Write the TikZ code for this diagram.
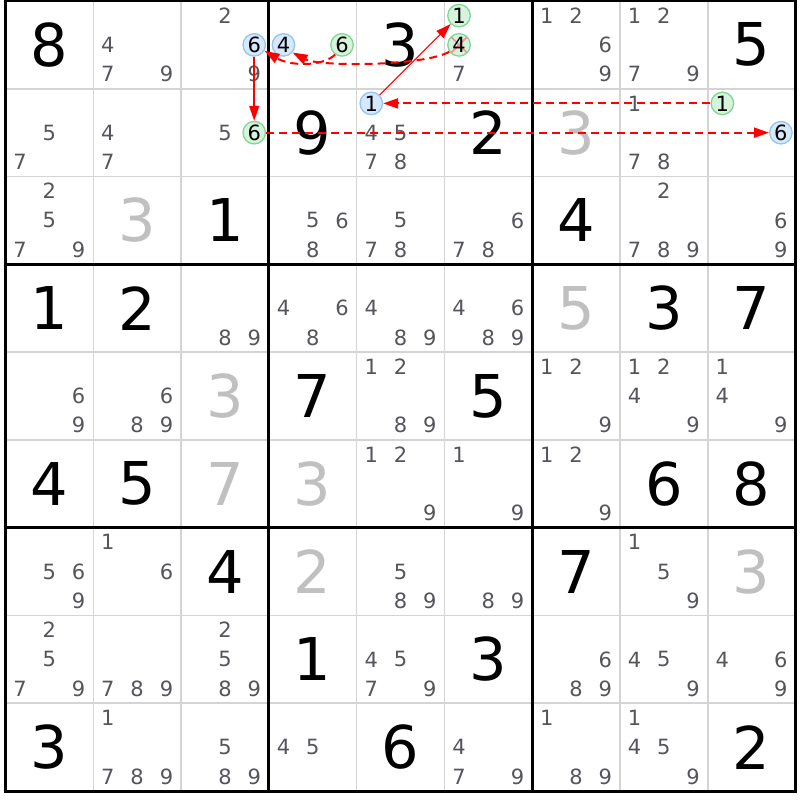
\documentclass[tikz,border=0pt]{standalone}
\usepackage{fontspec}
\setmainfont{DejaVu Sans}
\usetikzlibrary{arrows.meta}
\definecolor{candgray}{RGB}{85,85,92}
\definecolor{solvedgray}{RGB}{192,192,192}
\definecolor{thingray}{RGB}{212,212,212}
\definecolor{bluefill}{RGB}{214,232,252}
\definecolor{blueline}{RGB}{150,196,240}
\definecolor{greenfill}{RGB}{214,244,220}
\definecolor{greenline}{RGB}{130,214,145}
\definecolor{xred}{RGB}{255,140,140}
\definecolor{chainred}{RGB}{255,0,0}
\begin{document}
\begin{tikzpicture}[x=1pt,y=1pt,
  thinline/.style={draw=thingray,line width=1.5pt},
  boxline/.style={draw=black,line width=3pt},
  given/.style={inner sep=0pt,text=black,font=\fontsize{59}{59}\selectfont},
  solved/.style={inner sep=0pt,text=solvedgray,font=\fontsize{59}{59}\selectfont},
  cand/.style={inner sep=0pt,text=candgray,font=\fontsize{21}{21}\selectfont},
  circ/.style={circle,inner sep=0pt,minimum size=22.5pt,line width=1.3pt,text=black,font=\fontsize{21}{21}\selectfont},
  bluec/.style={circ,fill=bluefill,draw=blueline},
  greenc/.style={circ,fill=greenfill,draw=greenline},
  greencx/.style={greenc,path picture={
     \draw[xred,line width=1.6pt] (path picture bounding box.north west) -- (path picture bounding box.south east);
     \draw[xred,line width=1.6pt] (path picture bounding box.north east) -- (path picture bounding box.south west);}},
  redtip/.style={-{Triangle[length=15pt,width=10pt]}},
  chainsolid/.style={draw=chainred,line width=1.5pt,redtip},
  chaindash/.style={draw=chainred,line width=2pt,dash pattern=on 8pt off 5pt,redtip},
  chainthin/.style={draw=chainred,line width=1pt,redtip}
]
\fill[white] (0,0) rectangle (800,-800);
\useasboundingbox (0,0) rectangle (800,-800);
% thin cell lines
\foreach \i in {1,2,4,5,7,8} {
  \draw[thinline] ({5.5+\i*87.78},-1) -- ({5.5+\i*87.78},-791);
  \draw[thinline] (5.5,{-1-\i*87.78}) -- (795.5,{-1-\i*87.78});
}
% given digits
\foreach \r/\c/\d in {1/1/8,1/5/3,1/9/5,2/4/9,2/6/2,3/3/1,3/7/4,4/1/1,4/2/2,4/8/3,4/9/7,5/4/7,5/6/5,6/1/4,6/2/5,6/8/6,6/9/8,7/3/4,7/7/7,8/4/1,8/6/3,9/1/3,9/5/6,9/9/2}
  \node[given] (g\r\c) at ({5.5+(\c-0.5)*87.78},{-1-(\r-0.5)*87.78}) {\d};
% solved digits
\foreach \r/\c/\d in {2/7/3,3/2/3,4/7/5,5/3/3,6/3/7,6/4/3,7/4/2,7/9/3}
  \node[solved] (s\r\c) at ({5.5+(\c-0.5)*87.78},{-1-(\r-0.5)*87.78}) {\d};
% candidates
\foreach \r/\c/\ds in {1/2/{4,7,9},1/3/{2,9},1/6/{7},1/7/{1,2,6,9},1/8/{1,2,7,9},
  2/1/{5,7},2/2/{4,7},2/3/{5},2/5/{4,5,7,8},2/8/{1,7,8},
  3/1/{2,5,7,9},3/4/{5,6,8},3/5/{5,7,8},3/6/{6,7,8},3/8/{2,7,8,9},3/9/{6,9},
  4/3/{8,9},4/4/{4,6,8},4/5/{4,8,9},4/6/{4,6,8,9},
  5/1/{6,9},5/2/{6,8,9},5/5/{1,2,8,9},5/7/{1,2,9},5/8/{1,2,4,9},5/9/{1,4,9},
  6/5/{1,2,9},6/6/{1,9},6/7/{1,2,9},
  7/1/{5,6,9},7/2/{1,6},7/5/{5,8,9},7/6/{8,9},7/8/{1,5,9},
  8/1/{2,5,7,9},8/2/{7,8,9},8/3/{2,5,8,9},8/5/{4,5,7,9},8/7/{6,8,9},8/8/{4,5,9},8/9/{4,6,9},
  9/2/{1,7,8,9},9/3/{5,8,9},9/4/{4,5},9/6/{4,7,9},9/7/{1,8,9},9/8/{1,4,5,9}} {
  \foreach \k in \ds {
    \pgfmathtruncatemacro\ci{mod(\k-1,3)}
    \pgfmathtruncatemacro\ri{(\k-1)/3}
    \node[cand] (c\r\c\k) at ({5.5+(\c-1)*87.78+(\ci+0.5)*29.26},{-1-(\r-1)*87.78-(\ri+0.5)*29.26}) {\k};
  }
}
% box lines
\foreach \i in {3,6} {
  \draw[boxline] ({5.5+\i*87.78},-1) -- ({5.5+\i*87.78},-791);
  \draw[boxline] (5.5,{-1-\i*87.78}) -- (795.5,{-1-\i*87.78});
}
\draw[boxline] (5.5,-1) rectangle (795.5,-791);
% highlighted candidates
\foreach \r/\c/\k/\sty in {1/3/6/bluec,2/3/6/greenc,1/4/4/bluec,1/4/6/greenc,1/6/1/greenc,1/6/4/greencx,2/5/1/bluec,2/9/1/greenc,2/9/6/bluec} {
    \pgfmathtruncatemacro\ci{mod(\k-1,3)}
    \pgfmathtruncatemacro\ri{(\k-1)/3}
    \node[\sty] (k\r\c\k) at ({5.5+(\c-1)*87.78+(\ci+0.5)*29.26},{-1-(\r-1)*87.78-(\ri+0.5)*29.26}) {\k};
}
% chain
\draw[chainsolid] (k136) -- (k236);
\draw[chaindash] (k236) -- (k296);
\draw[chaindash] (k291) -- (k251);
\draw[chainthin] (k251) -- (k161);
\draw[chaindash] (k164.215) .. controls (425,-66) and (320,-67) .. (k144.-40);
\draw[chaindash] (k146.235) .. controls (322,-67) and (290,-66) .. (k136.-30);
\end{tikzpicture}
\end{document}
